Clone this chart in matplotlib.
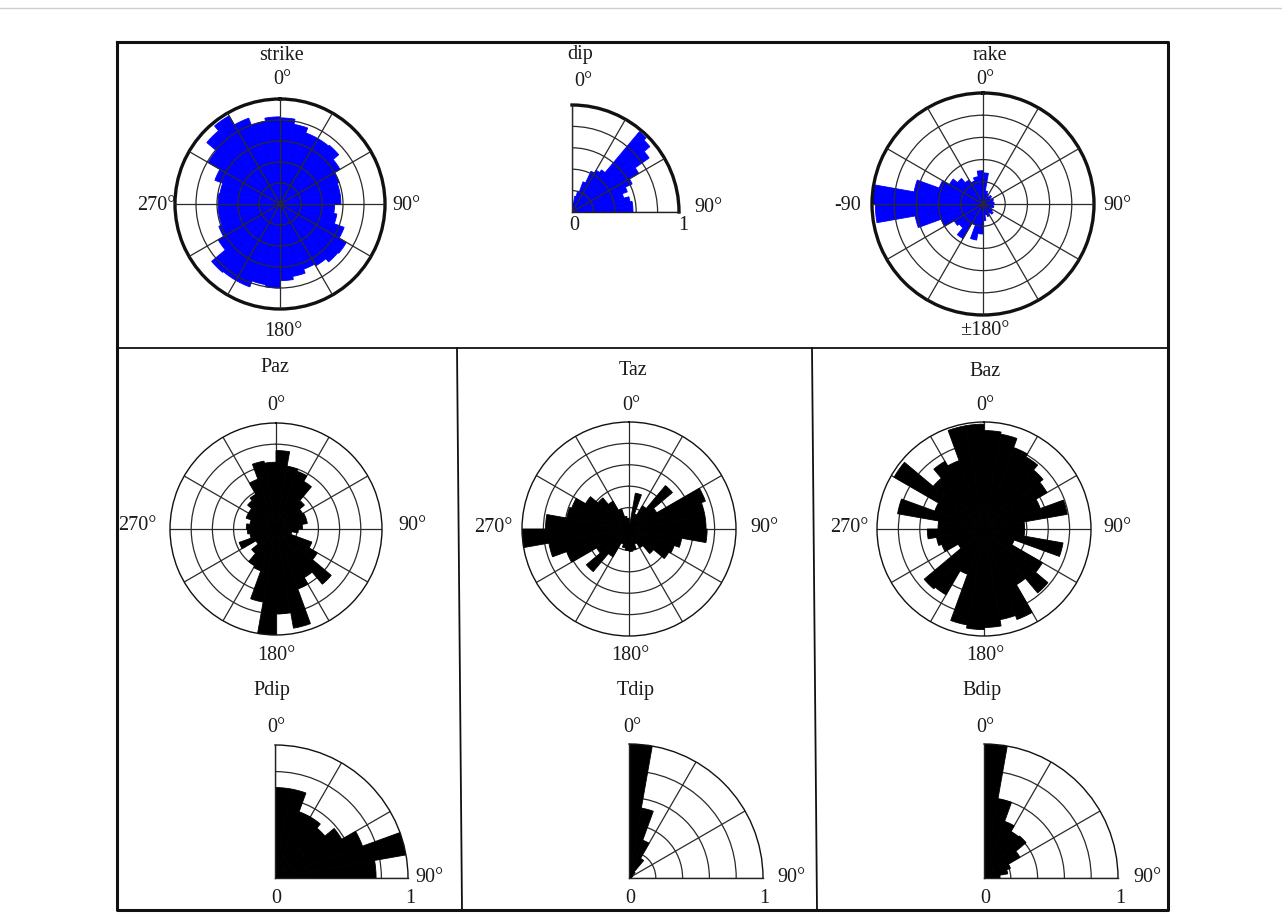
import numpy as np
import matplotlib
matplotlib.use('Agg')
import matplotlib.pyplot as plt

# dimensioni in pixel dell'immagine finale
W, H = 1282, 913
plt.rcParams['font.family'] = ['Liberation Serif', 'DejaVu Serif']

# --- dati (frazione del raggio massimo) ---
# istogrammi azimutali: classi di 10 gradi a partire da 0
strike_vals = [0.82, 0.77, 0.72, 0.72, 0.73, 0.66, 0.60, 0.58, 0.58, 0.52, 0.55, 0.65,
               0.73, 0.72, 0.68, 0.66, 0.70, 0.73, 0.80, 0.78, 0.84, 0.84, 0.85, 0.68,
               0.62, 0.59, 0.59, 0.59, 0.58, 0.66, 0.79, 0.91, 0.97, 0.87, 0.80, 0.83]
paz_vals = [0.74, 0.60, 0.58, 0.52, 0.35, 0.29, 0.30, 0.30, 0.25, 0.21, 0.15, 0.36,
            0.45, 0.68, 0.53, 0.60, 0.95, 0.80, 1.00, 0.70, 0.42, 0.40, 0.30, 0.22,
            0.37, 0.25, 0.27, 0.28, 0.25, 0.30, 0.30, 0.35, 0.38, 0.50, 0.65, 0.63]
taz_vals = [0.05, 0.34, 0.15, 0.25, 0.53, 0.30, 0.76, 0.72, 0.72, 0.73, 0.50, 0.45,
            0.43, 0.30, 0.20, 0.15, 0.20, 0.21, 0.20, 0.18, 0.15, 0.30, 0.52, 0.35,
            0.62, 0.76, 1.00, 0.78, 0.59, 0.57, 0.47, 0.38, 0.30, 0.20, 0.12, 0.10]
baz_vals = [0.92, 0.90, 0.81, 0.78, 0.72, 0.68, 0.56, 0.79, 0.38, 0.38, 0.75, 0.30,
            0.63, 0.78, 0.60, 0.90, 0.86, 0.92, 0.94, 0.91, 0.45, 0.71, 0.73, 0.28,
            0.42, 0.45, 0.53, 0.43, 0.82, 0.49, 0.97, 0.62, 0.73, 0.68, 0.98, 0.98]
# rake: classi di 10 gradi da -180 a 180
rake_vals = [0.27, 0.33, 0.20, 0.36, 0.28, 0.30, 0.40, 0.62, 0.97, 1.00, 0.63, 0.42,
             0.35, 0.30, 0.25, 0.22, 0.25, 0.30, 0.28, 0.12, 0.10, 0.08, 0.10, 0.08,
             0.10, 0.09, 0.10, 0.09, 0.10, 0.08, 0.10, 0.12, 0.10, 0.12, 0.10, 0.15]
# dip: classi di 5 gradi da 0 a 90
dip_vals = [0.05, 0.08, 0.15, 0.20, 0.30, 0.42, 0.45, 0.48, 0.98, 0.95, 0.88, 0.72,
            0.62, 0.55, 0.50, 0.55, 0.57, 0.57]
# inclinazioni degli assi P, T, B: classi di 10 gradi da 0 a 90
pdip_vals = [0.68, 0.68, 0.53, 0.53, 0.49, 0.58, 0.70, 1.00, 0.76]
tdip_vals = [1.00, 0.53, 0.30, 0.17, 0.06, 0.03, 0.03, 0.02, 0.02]
bdip_vals = [1.00, 0.60, 0.45, 0.40, 0.41, 0.31, 0.21, 0.18, 0.12]

BLUE = '#0000ff'
BLACK = '#000000'
TXT = '#1a1a1a'
FS = 14.5


def frac(x, y):
    # pixel -> coordinate frazionarie della figura
    return x / W, 1 - y / H


def txt(fig, x, y, s):
    fx, fy = frac(x, y)
    fig.text(fx, fy, s, ha='center', va='center', fontsize=FS, color=TXT)


def draw_bars(ax, theta, vals, step, color):
    # bordo dello stesso colore per evitare le fessure bianche tra le barre
    ax.bar(theta, vals, width=np.deg2rad(step), align='edge', color=color,
           edgecolor=color, linewidth=0.6, zorder=1)


def rose(fig, cx, cy, R, vals, start, color, thick):
    # rosa completa centrata in (cx, cy) con raggio R (pixel)
    ax = fig.add_axes([(cx - R) / W, 1 - (cy + R) / H, 2 * R / W, 2 * R / H],
                      projection='polar')
    step = 360 / len(vals)
    theta = np.deg2rad(start + np.arange(len(vals)) * step)
    draw_bars(ax, theta, vals, step, color)
    style_polar(ax, thick, color)
    ax.set_xticks(np.deg2rad(np.arange(0, 360, 30)))
    ax.set_xticklabels([])
    return ax


def quarter(fig, ox, oy, R, vals, color, thick):
    # quarto di rosa con origine in (ox, oy)
    ax = fig.add_axes([ox / W, 1 - oy / H, R / W, R / H], projection='polar')
    ax.set_thetamin(0)
    ax.set_thetamax(90)
    step = 90 / len(vals)
    theta = np.deg2rad(np.arange(len(vals)) * step)
    draw_bars(ax, theta, vals, step, color)
    style_polar(ax, thick, color)
    ax.set_xticks(np.deg2rad([0, 30, 60, 90]))
    ax.set_xticklabels([])
    for s in ('start', 'end'):
        ax.spines[s].set_linewidth(1.0)
        ax.spines[s].set_color('#222222')
    return ax


def style_polar(ax, thick, color):
    ax.set_theta_zero_location('N')
    ax.set_theta_direction(-1)
    ax.set_ylim(0, 1)
    ax.set_yticks([0.2, 0.4, 0.6, 0.8])
    ax.set_yticklabels([])
    ax.set_facecolor('none')
    # griglia sopra le barre blu, sotto quelle nere
    ax.set_axisbelow(color == BLACK)
    ax.grid(True, color='#2a2a2a', linewidth=0.9)
    ax.tick_params(length=0, pad=0)
    ax.spines['polar'].set_linewidth(2.4 if thick else 1.0)
    ax.spines['polar'].set_color('#111111')


fig = plt.figure(figsize=(W / 100, H / 100), dpi=100)

# cornici e divisori disegnati su un asse di sfondo in pixel
bg = fig.add_axes([0, 0, 1, 1], zorder=-1)
bg.set_xlim(0, W)
bg.set_ylim(H, 0)
bg.axis('off')
bg.plot([0, W], [8, 8], color='#cfcfcf', lw=1)
bg.plot([117, 1168, 1168, 117, 117], [42, 42, 910, 910, 42], color='#111111', lw=2.2)
bg.plot([117, 1168], [348, 348], color='#111111', lw=1.3)
bg.plot([457, 462], [348, 910], color='#111111', lw=1.3)
bg.plot([812, 817], [348, 910], color='#111111', lw=1.3)

# --- riga superiore ---
rose(fig, 280, 204, 105, strike_vals, 0, BLUE, True)
txt(fig, 282, 55, 'strike')
txt(fig, 282, 80, '0°')
txt(fig, 156, 206, '270°')
txt(fig, 406, 206, '90°')
txt(fig, 283, 332, '180°')

quarter(fig, 572, 212, 107, dip_vals, BLUE, True)
txt(fig, 580, 55, 'dip')
txt(fig, 583, 81, '0°')
txt(fig, 708, 207, '90°')
txt(fig, 574, 225, '0')
txt(fig, 683, 225, '1')

rose(fig, 983, 204, 111, rake_vals, -180, BLUE, True)
txt(fig, 990, 55, 'rake')
txt(fig, 985, 80, '0°')
txt(fig, 848, 206, '-90')
txt(fig, 1117, 206, '90°')
txt(fig, 985, 330, '±180°')

# --- azimut degli assi P, T, B ---
rose(fig, 276, 529, 106, paz_vals, 0, BLACK, False)
txt(fig, 275, 367, 'Paz')
txt(fig, 276, 406, '0°')
txt(fig, 137, 526, '270°')
txt(fig, 412, 526, '90°')
txt(fig, 276, 655, '180°')

rose(fig, 629, 529, 107, taz_vals, 0, BLACK, False)
txt(fig, 633, 370, 'Taz')
txt(fig, 631, 406, '0°')
txt(fig, 493, 527, '270°')
txt(fig, 764, 527, '90°')
txt(fig, 630, 655, '180°')

rose(fig, 984, 529, 107, baz_vals, 0, BLACK, False)
txt(fig, 985, 372, 'Baz')
txt(fig, 985, 406, '0°')
txt(fig, 849, 527, '270°')
txt(fig, 1117, 527, '90°')
txt(fig, 985, 655, '180°')

# --- inclinazioni degli assi P, T, B ---
quarter(fig, 275, 878, 133, pdip_vals, BLACK, False)
txt(fig, 272, 690, 'Pdip')
txt(fig, 276, 728, '0°')
txt(fig, 429, 877, '90°')
txt(fig, 276, 898, '0')
txt(fig, 410, 898, '1')

quarter(fig, 629, 878, 134, tdip_vals, BLACK, False)
txt(fig, 636, 690, 'Tdip')
txt(fig, 632, 728, '0°')
txt(fig, 791, 877, '90°')
txt(fig, 630, 898, '0')
txt(fig, 764, 898, '1')

quarter(fig, 984, 878, 134, bdip_vals, BLACK, False)
txt(fig, 982, 690, 'Bdip')
txt(fig, 985, 728, '0°')
txt(fig, 1147, 877, '90°')
txt(fig, 985, 898, '0')
txt(fig, 1120, 898, '1')

fig.savefig('out.png', dpi=100)
